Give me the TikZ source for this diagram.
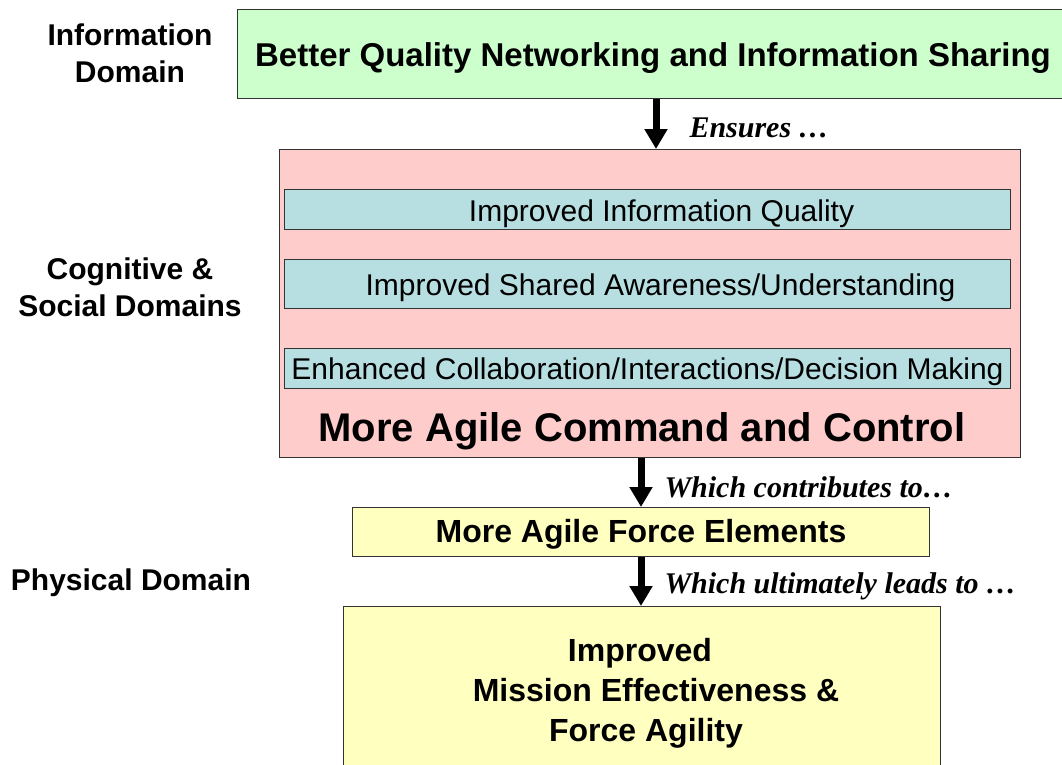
\documentclass[tikz,border=0pt]{standalone}
\usepackage{fontspec}
\setmainfont{Liberation Serif}
\setsansfont{Liberation Sans}
\usetikzlibrary{arrows.meta}
\definecolor{infogreen}{RGB}{204,255,204}
\definecolor{cogpink}{RGB}{255,204,204}
\definecolor{itemblue}{RGB}{183,222,225}
\definecolor{physyellow}{RGB}{255,255,192}
\tikzset{
  mybox/.style={draw=black!80, line width=1pt, inner sep=0pt, anchor=north west},
  domainlbl/.style={font=\sffamily\bfseries\fontsize{30}{37}\selectfont, align=center, inner sep=0pt},
  boxtext/.style={font=\sffamily\bfseries\fontsize{32}{40}\selectfont, inner sep=0pt},
  itemtext/.style={font=\sffamily\fontsize{30}{36}\selectfont, inner sep=0pt},
  bigarrow/.style={line width=7pt, -{Triangle[width=22pt,length=20pt]}},
  arrowlbl/.style={font=\bfseries\itshape\fontsize{30}{36}\selectfont, inner sep=0pt, anchor=west}
}
\begin{document}
\begin{tikzpicture}[x=1pt,y=-1pt]
\clip (0,0) rectangle (1062,764);
\fill[white] (0,0) rectangle (1062,764);

% left domain labels
\node[domainlbl] (dinfo) at (130,53) {Information\\Domain};
\node[domainlbl] (dcog) at (130,287) {Cognitive \&\\Social Domains};
\node[domainlbl] (dphys) at (131,583) {Physical Domain};

% information domain box
\node[mybox, fill=infogreen, minimum width=838pt, minimum height=89pt] (info) at (237,9) {};
\node[boxtext, font=\sffamily\bfseries\fontsize{33}{40}\selectfont] (infot) at (653,58) {Better Quality Networking and Information Sharing};

% cognitive & social box
\node[mybox, fill=cogpink, minimum width=741pt, minimum height=308pt] (cog) at (279,149) {};
\node[mybox, fill=itemblue, minimum width=726pt, minimum height=40pt] (iq) at (284,189) {};
\node[itemtext] (iqt) at ([xshift=14pt,yshift=-4pt]iq.center) {Improved Information Quality};
\node[mybox, fill=itemblue, minimum width=726pt, minimum height=49pt] (sa) at (284,259) {};
\node[itemtext] (sat) at ([xshift=13pt,yshift=-4pt]sa.center) {Improved Shared Awareness/Understanding};
\node[mybox, fill=itemblue, minimum width=726pt, minimum height=40pt] (ec) at (284,348) {};
\node[itemtext] (ect) at ([yshift=-3pt]ec.center) {Enhanced Collaboration/Interactions/Decision Making};
\node[font=\sffamily\bfseries\fontsize{40}{48}\selectfont, inner sep=0pt] (c2t) at (642,431) {More Agile Command and Control};

% physical domain boxes
\node[mybox, fill=physyellow, minimum width=577pt, minimum height=49pt] (fe) at (352,507) {};
\node[boxtext] (fet) at ([yshift=-2pt]fe.center) {More Agile Force Elements};
\node[mybox, fill=physyellow, minimum width=597pt, minimum height=190pt] (me) at (343,606) {};
\node[boxtext, align=center] (met) at (640,693) {Improved\\\hspace*{32pt}Mission Effectiveness \&\\\hspace*{12pt}Force Agility};

% connectors
\coordinate (ax1) at (656,0);
\coordinate (ax2) at (641,0);
\draw[bigarrow] (info.south -| ax1) -- (cog.north -| ax1)
  node[arrowlbl, pos=0.58, xshift=30pt] (l1) {Ensures …};
\draw[bigarrow] (cog.south -| ax2) -- (fe.north -| ax2)
  node[arrowlbl, pos=0.6, xshift=20pt] (l2) {Which contributes to…};
\draw[bigarrow] (fe.south -| ax2) -- (me.north -| ax2)
  node[arrowlbl, pos=0.6, xshift=20pt] (l3) {Which ultimately leads to …};
\end{tikzpicture}
\end{document}
